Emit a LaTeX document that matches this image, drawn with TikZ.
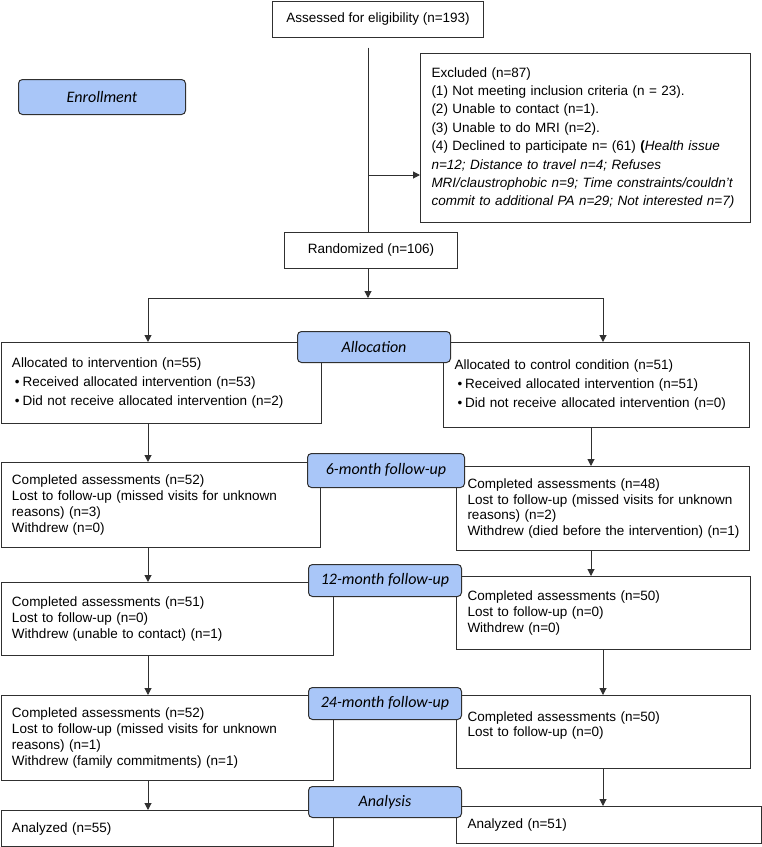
\documentclass[tikz,border=0pt]{standalone}
\usepackage{fontspec}
\setmainfont{Liberation Sans}
\newfontfamily\tagfamily{Carlito}
\usetikzlibrary{arrows.meta}

\definecolor{tagblue}{HTML}{A9C6F8}
\definecolor{edge}{HTML}{303030}
\newcommand\boxfont{\fontsize{13.5}{15.8}\selectfont}
\newcommand\tagfont{\tagfamily\itshape\fontsize{16}{18}\selectfont}
\newcommand\bul{\hspace*{3pt}\textbullet\hspace{3pt}}

\tikzset{
  box/.style={draw=edge, line width=1pt, anchor=north west, align=left,
    inner xsep=11pt, inner ysep=0pt, font=\boxfont},
  single/.style={draw=edge, line width=1pt, anchor=north west, inner sep=0pt, font=\boxfont},
  tag/.style={draw=edge, line width=1pt, rounded corners=4pt, fill=tagblue,
    anchor=north west, inner sep=0pt, font=\tagfont},
  line/.style={draw=edge, line width=1pt},
  arr/.style={line, -{Triangle[length=7pt,width=7pt]}},
}

\begin{document}
\begin{tikzpicture}[x=1pt,y=-1pt]
\useasboundingbox (0,0) rectangle (762,847);

% column positions of the connectors
\coordinate (spine) at (368,0);
\coordinate (colL) at (148,0);
\coordinate (colR) at (591,0);
\coordinate (colRR) at (603,0);

% enrollment
\node[single, minimum width=211pt, minimum height=36pt] (assessed) at (272,0.5) {Assessed for eligibility (n=193)};
\node[box, text width=308pt, minimum height=169pt, font={\fontsize{13.5}{18.4}\selectfont}] (excluded) at (420,53)
  {Excluded (n=87)\\
   (1) Not meeting inclusion criteria (n = 23).\\
   (2) Unable to contact (n=1).\\
   (3) Unable to do MRI (n=2).\\
   (4) Declined to participate n= (61) \textbf{(}\textit{Health issue}\\
   \textit{n=12; Distance to travel n=4; Refuses}\\
   \mbox{\textit{MRI/claustrophobic n=9; Time constraints/couldn’t}}\\
   \textit{commit to additional PA n=29; Not interested n=7)}};
\node[single, minimum width=173pt, minimum height=36pt] (rand) at (284,232) {Randomized (n=106)};

% allocation
\node[box, text width=298pt, minimum height=81pt, font={\fontsize{13.5}{19}\selectfont}] (allocL) at (0.5,342)
  {Allocated to intervention (n=55)\\
   \bul Received allocated intervention (n=53)\\
   \bul Did not receive allocated intervention (n=2)};
\node[box, text width=284pt, minimum height=85pt, font={\fontsize{13.5}{19}\selectfont}] (allocR) at (443,342)
  {Allocated to control condition (n=51)\\
   \bul Received allocated intervention (n=51)\\
   \bul Did not receive allocated intervention (n=0)};

% 6-month
\node[box, text width=297pt, minimum height=85pt] (fuSixL) at (0.5,462)
  {Completed assessments (n=52)\\
   Lost to follow-up (missed visits for unknown\\
   reasons) (n=3)\\
   Withdrew (n=0)};
\node[box, text width=271pt, minimum height=84pt] (fuSixR) at (456,466)
  {Completed assessments (n=48)\\
   \mbox{Lost to follow-up (missed visits for unknown}\\
   reasons) (n=2)\\
   \mbox{Withdrew (died before the intervention) (n=1)}};

% 12-month
\node[box, text width=310pt, minimum height=73pt] (fuTwelveL) at (0.5,582)
  {Completed assessments (n=51)\\
   Lost to follow-up (n=0)\\
   Withdrew (unable to contact) (n=1)};
\node[box, text width=272pt, minimum height=73pt] (fuTwelveR) at (456,576)
  {Completed assessments (n=50)\\
   Lost to follow-up (n=0)\\
   Withdrew (n=0)};

% 24-month
\node[box, text width=310pt, minimum height=85pt] (fuTwentyfourL) at (0.5,695)
  {Completed assessments (n=52)\\
   Lost to follow-up (missed visits for unknown\\
   reasons) (n=1)\\
   Withdrew (family commitments) (n=1)};
\node[box, text width=272pt, minimum height=73pt] (fuTwentyfourR) at (456,695)
  {Completed assessments (n=50)\\
   Lost to follow-up (n=0)\\ \mbox{}};

% analysis
\node[box, text width=310pt, minimum height=36pt] (anaL) at (0.5,810) {Analyzed (n=55)};
\node[box, text width=283pt, minimum height=37pt] (anaR) at (456,806) {Analyzed (n=51)};

% stage tags
\node[tag, minimum width=167pt, minimum height=35pt] (enrollTag) at (18,79) {Enrollment};
\node[tag, minimum width=153pt, minimum height=31pt] (allocTag) at (297,331) {Allocation};
\node[tag, minimum width=157pt, minimum height=34pt] (sixTag) at (307,453) {6-month follow-up};
\node[tag, minimum width=153pt, minimum height=32pt] (twelveTag) at (308,564) {12-month follow-up};
\node[tag, minimum width=153pt, minimum height=32pt] (twentyfourTag) at (308,687) {24-month follow-up};
\node[tag, minimum width=153pt, minimum height=31pt] (anaTag) at (308,786) {Analysis};

% connectors
\coordinate (excl) at (368,175);
\coordinate (split) at (368,298);
\draw[line, shorten <=10pt] (assessed.south -| spine) -- (rand.north -| spine);
\draw[arr] (excl) -- (excl -| excluded.west);
\draw[arr] (rand.south -| spine) -- (split);
\draw[line] (split -| colL) -- (split -| colRR);
\draw[arr] (split -| colL) -- (allocL.north -| colL);
\draw[arr] (split -| colRR) -- (allocR.north -| colRR);

\draw[arr] (allocL.south -| colL) -- (fuSixL.north -| colL);
\draw[arr] (fuSixL.south -| colL) -- (fuTwelveL.north -| colL);
\draw[arr] (fuTwelveL.south -| colL) -- (fuTwentyfourL.north -| colL);
\draw[arr] (fuTwentyfourL.south -| colL) -- (anaL.north -| colL);

\draw[arr] (allocR.south -| colR) -- (fuSixR.north -| colR);
\draw[arr] (fuSixR.south -| colR) -- (fuTwelveR.north -| colR);
\draw[arr] (fuTwelveR.south -| colRR) -- (fuTwentyfourR.north -| colRR);
\draw[arr] (fuTwentyfourR.south -| colRR) -- (anaR.north -| colRR);
\end{tikzpicture}
\end{document}
